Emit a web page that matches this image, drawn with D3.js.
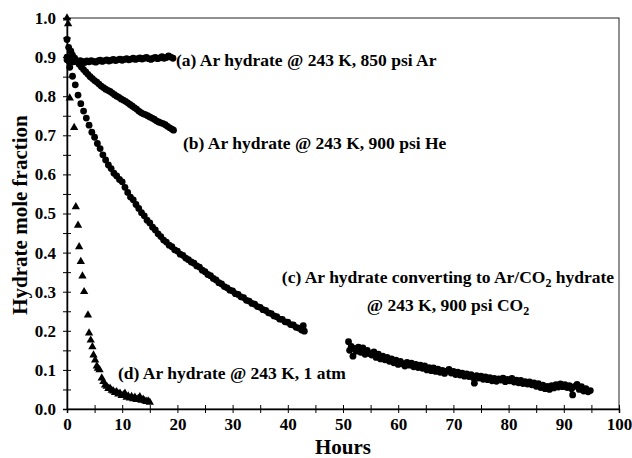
<!DOCTYPE html>
<html>
<head>
<meta charset="utf-8" />
<title>Hydrate mole fraction</title>
<script src="https://cdn.jsdelivr.net/npm/d3@7"></script>
<style>
  body { margin: 0; background: white; }
  text { font-family: "Liberation Serif", "Times New Roman", serif; font-weight: bold; fill: black; }
</style>
</head>
<body>
<svg id="chart" width="632" height="458"></svg>
<script>

// (a) Ar hydrate @ 243 K, 850 psi Ar  -- [hours, mole fraction]
var seriesA = [
  [0,0.893],[0.4,0.889],[0.8,0.892],[1.2,0.888],[1.6,0.890],[2.0,0.887],[2.4,0.891],[2.8,0.889],
  [3.2,0.886],[3.6,0.890],[4.0,0.888],[4.4,0.891],[4.8,0.889],[5.2,0.887],[5.6,0.890],[6.0,0.892],
  [6.4,0.889],[6.8,0.891],[7.2,0.893],[7.6,0.890],[8.0,0.892],[8.4,0.894],[8.8,0.891],[9.2,0.893],
  [9.6,0.895],[10.0,0.892],[10.4,0.894],[10.8,0.896],[11.2,0.893],[11.6,0.895],[12.0,0.897],[12.4,0.894],
  [12.8,0.896],[13.2,0.898],[13.6,0.895],[14.0,0.897],[14.4,0.899],[14.8,0.896],[15.2,0.894],[15.6,0.897],
  [16.0,0.899],[16.4,0.896],[16.8,0.898],[17.2,0.901],[17.6,0.897],[18.0,0.899],[18.4,0.903],[18.8,0.900],
  [19.2,0.897]
];

// (b) Ar hydrate @ 243 K, 900 psi He
var seriesB = [
  [0,0.945],[0.3,0.925],[0.7,0.915],[1.0,0.905],[1.4,0.897],[1.8,0.890],[2.2,0.882],[2.6,0.875],
  [3.0,0.868],[3.4,0.862],[3.8,0.856],[4.2,0.850],[4.6,0.845],[5.0,0.840],[5.4,0.836],[5.8,0.831],
  [6.2,0.826],[6.6,0.822],[7.0,0.818],[7.4,0.815],[7.8,0.812],[8.2,0.808],[8.6,0.804],[9.0,0.800],
  [9.4,0.797],[9.8,0.793],[10.2,0.790],[10.6,0.787],[11.0,0.783],[11.4,0.779],[11.8,0.775],[12.2,0.771],
  [12.6,0.767],[13.0,0.762],[13.4,0.758],[13.8,0.755],[14.2,0.753],[14.6,0.750],[15.0,0.747],[15.4,0.744],
  [15.8,0.741],[16.2,0.737],[16.6,0.734],[17.0,0.732],[17.4,0.730],[17.8,0.727],[18.2,0.723],[18.6,0.719],
  [19.0,0.716],[19.3,0.713]
];

// (c) Ar hydrate converting to Ar/CO2 hydrate, first run
var seriesC1 = [
  [0,0.900],[0.5,0.874],[1.0,0.851],[1.5,0.829],[2.0,0.803],[2.5,0.781],[3.0,0.762],[3.5,0.744],
  [4.0,0.726],[4.5,0.708],[5.0,0.695],[5.5,0.679],[6.0,0.666],[6.5,0.650],[7.0,0.637],[7.5,0.624],
  [8.0,0.615],[8.5,0.603],[9.0,0.596],[9.5,0.587],[10.0,0.581],[10.5,0.567],[11.0,0.554],[11.5,0.542],
  [12.0,0.535],[12.5,0.523],[13.0,0.513],[13.5,0.502],[14.0,0.494],[14.5,0.483],[15.0,0.476],[15.5,0.465],
  [16.0,0.458],[16.5,0.448],[17.0,0.441],[17.5,0.432],[18.0,0.427],[18.5,0.419],[19.0,0.415],[19.5,0.407],
  [20.0,0.404],[20.5,0.396],[21.0,0.393],[21.5,0.386],[22.0,0.382],[22.5,0.376],[23.0,0.373],[23.5,0.366],
  [24.0,0.363],[24.5,0.355],[25.0,0.351],[25.5,0.344],[26.0,0.341],[26.5,0.334],[27.0,0.330],[27.5,0.323],
  [28.0,0.320],[28.5,0.313],[29.0,0.310],[29.5,0.304],[30.0,0.302],[30.5,0.295],[31.0,0.293],[31.5,0.287],
  [32.0,0.285],[32.5,0.278],[33.0,0.276],[33.5,0.270],[34.0,0.268],[34.5,0.262],[35.0,0.260],[35.5,0.254],
  [36.0,0.252],[36.5,0.246],[37.0,0.244],[37.5,0.238],[38.0,0.236],[38.5,0.230],[39.0,0.229],[39.5,0.223],
  [40.0,0.222],[40.5,0.216],[41.0,0.215],[41.5,0.209],[42.0,0.207],[42.5,0.202],[42.8,0.213],[43.0,0.199]
];

// (c) second run, after the gap
var seriesC2 = [
  [51.0,0.172],[51.2,0.150],[51.5,0.160],[51.8,0.135],[52.0,0.155],[52.4,0.148],[52.8,0.158],[53.2,0.145],
  [53.6,0.156],[54.0,0.140],[54.4,0.150],[54.8,0.142],[55.2,0.138],[55.6,0.146],[56.0,0.132],[56.4,0.140],
  [56.8,0.128],[57.2,0.135],[57.6,0.126],[58.0,0.132],[58.4,0.122],[58.8,0.128],[59.2,0.118],[59.6,0.125],
  [60.0,0.114],[60.4,0.122],[60.8,0.116],[61.2,0.110],[61.6,0.119],[62.0,0.112],[62.4,0.117],[62.8,0.108],
  [63.2,0.114],[63.6,0.106],[64.0,0.112],[64.4,0.104],[64.8,0.110],[65.2,0.100],[65.6,0.106],[66.0,0.098],
  [66.4,0.105],[66.8,0.096],[67.2,0.102],[67.6,0.094],[68.0,0.099],[68.4,0.091],[68.8,0.097],[69.2,0.101],
  [69.6,0.092],[70.0,0.096],[70.4,0.088],[70.8,0.094],[71.2,0.087],[71.6,0.092],[72.0,0.084],[72.4,0.090],
  [72.8,0.083],[73.2,0.088],[73.6,0.080],[73.8,0.066],[74.2,0.085],[74.6,0.079],[75.0,0.084],[75.4,0.076],
  [75.8,0.082],[76.2,0.075],[76.6,0.080],[77.0,0.072],[77.4,0.078],[77.8,0.071],[78.2,0.077],[78.6,0.074],
  [79.0,0.079],[79.4,0.070],[79.8,0.076],[80.2,0.072],[80.6,0.078],[81.0,0.069],[81.4,0.074],[81.8,0.067],
  [82.2,0.073],[82.6,0.065],[83.0,0.070],[83.4,0.064],[83.8,0.069],[84.2,0.062],[84.6,0.067],[85.0,0.058],
  [85.4,0.065],[85.8,0.055],[86.2,0.061],[86.6,0.052],[87.0,0.058],[87.4,0.050],[87.8,0.060],[88.2,0.054],
  [88.6,0.062],[89.0,0.056],[89.4,0.064],[89.8,0.057],[90.2,0.062],[90.6,0.055],[91.0,0.060],[91.4,0.052],
  [91.6,0.036],[92.0,0.058],[92.4,0.063],[92.8,0.050],[93.2,0.057],[93.6,0.046],[94.0,0.052],[94.4,0.044],
  [94.8,0.047]
];

// (d) Ar hydrate @ 243 K, 1 atm  (triangles)
var seriesD = [
  [0,1.000],[0.2,0.985],[0.5,0.795],[1.3,0.720],[1.6,0.517],[2.0,0.470],[2.2,0.415],[2.5,0.377],
  [2.8,0.340],[3.1,0.300],[3.8,0.240],[4.0,0.194],[4.3,0.176],[4.6,0.159],[4.8,0.138],[5.1,0.125],
  [5.4,0.110],[5.6,0.104],[5.9,0.100],[6.3,0.079],[6.6,0.070],[6.9,0.061],[7.2,0.058],[7.5,0.052],
  [7.8,0.053],[8.1,0.048],[8.4,0.046],[8.7,0.042],[9.0,0.044],[9.3,0.038],[9.6,0.040],[9.9,0.034],
  [10.2,0.036],[10.5,0.040],[10.8,0.030],[11.1,0.033],[11.4,0.028],[11.7,0.032],[12.0,0.026],[12.3,0.030],
  [12.6,0.024],[12.9,0.027],[13.2,0.031],[13.5,0.022],[13.8,0.025],[14.1,0.021],[14.4,0.019],[14.7,0.020],
  [15.0,0.017]
];

var xTicks = [0,5,10,15,20,25,30,35,40,45,50,55,60,65,70,75,80,85,90,95,100];
var yTicks = [0,0.05,0.1,0.15,0.2,0.25,0.3,0.35,0.4,0.45,0.5,0.55,0.6,0.65,0.7,0.75,0.8,0.85,0.9,0.95,1.0];

var svg = d3.select("#chart");

var x = d3.scaleLinear().domain([0, 100]).range([67, 619]);
var y = d3.scaleLinear().domain([0, 1]).range([409, 18]);

// frame
svg.append("rect")
  .attr("x", x(0)).attr("y", y(1))
  .attr("width", x(100) - x(0)).attr("height", y(0) - y(1))
  .attr("fill", "none").attr("stroke", "#222").attr("stroke-width", 1);

// x axis
var xAxis = svg.append("g")
  .attr("transform", "translate(0," + y(0) + ")")
  .call(d3.axisBottom(x).tickValues(xTicks).tickSize(4)
    .tickFormat(function(d) { return d % 10 === 0 ? d : ""; }));
xAxis.select(".domain").attr("stroke-width", 1.5);
xAxis.selectAll(".tick line").attr("y1", -4);
xAxis.selectAll(".tick text")
  .attr("y", 9).attr("dy", "0.71em")
  .style("font-size", "17px").style("font-family", "Liberation Serif").style("font-weight", "bold");

// y axis
var yAxis = svg.append("g")
  .attr("transform", "translate(" + x(0) + ",0)")
  .call(d3.axisLeft(y).tickValues(yTicks).tickSize(4)
    .tickFormat(function(d) { return Math.round(d * 100) % 10 === 0 ? d3.format(".1f")(d) : ""; }));
yAxis.select(".domain").attr("stroke-width", 1.5);
yAxis.selectAll(".tick line").attr("x1", 4);
yAxis.selectAll(".tick text")
  .attr("x", -11)
  .style("font-size", "17px").style("font-family", "Liberation Serif").style("font-weight", "bold");

// axis titles
svg.append("text")
  .attr("x", 343).attr("y", 454)
  .attr("text-anchor", "middle")
  .style("font-size", "21px")
  .text("Hours");

svg.append("text")
  .attr("transform", "translate(27,215) rotate(-90)")
  .attr("text-anchor", "middle")
  .style("font-size", "21px")
  .text("Hydrate mole fraction");

// circles
var circleData = seriesA.concat(seriesB, seriesC1, seriesC2);
svg.append("g").selectAll("circle")
  .data(circleData)
  .enter().append("circle")
  .attr("cx", function(d) { return x(d[0]); })
  .attr("cy", function(d) { return y(d[1]); })
  .attr("r", 3.4)
  .attr("fill", "black");

// triangles
var tri = d3.symbol().type(d3.symbolTriangle).size(30);
svg.append("g").selectAll("path")
  .data(seriesD)
  .enter().append("path")
  .attr("d", tri)
  .attr("transform", function(d) { return "translate(" + x(d[0]) + "," + y(d[1]) + ")"; })
  .attr("fill", "black");

// annotations
function label(px, py, str) {
  return svg.append("text").attr("x", px).attr("y", py).style("font-size", "17.5px").text(str);
}
label(176, 66, "(a) Ar hydrate @ 243 K, 850 psi Ar");
label(183, 149, "(b) Ar hydrate @ 243 K, 900 psi He");
label(118, 379, "(d) Ar hydrate @ 243 K, 1 atm");

var c1 = svg.append("text").attr("x", 448).attr("y", 283)
  .attr("text-anchor", "middle").style("font-size", "17.5px");
c1.append("tspan").text("(c) Ar hydrate converting to Ar/CO");
c1.append("tspan").attr("dy", 4).style("font-size", "12px").text("2");
c1.append("tspan").attr("dy", -4).text(" hydrate");

var c2 = svg.append("text").attr("x", 448).attr("y", 311)
  .attr("text-anchor", "middle").style("font-size", "17.5px");
c2.append("tspan").text("@ 243 K, 900 psi CO");
c2.append("tspan").attr("dy", 4).style("font-size", "12px").text("2");

</script>
</body>
</html>
